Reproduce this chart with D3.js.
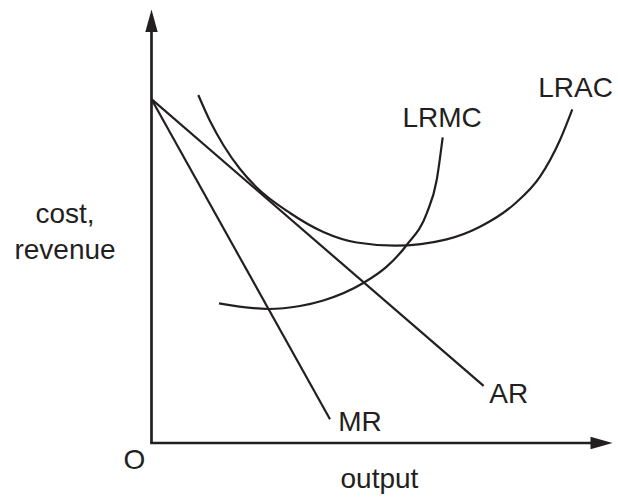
<!DOCTYPE html>
<html><head><meta charset="utf-8">
<script src="https://cdn.jsdelivr.net/npm/d3@7"></script>
<style>html,body{margin:0;padding:0;background:#fff;}svg{display:block;}</style>
</head><body>
<script>
// Data (x: output, y: cost/revenue, arbitrary units 0-100)
const arLine = [[0, 79.4], [72.2, 13.2]];
const mrLine = [[0, 79.4], [38.8, 5.5]];
const lracCurve = [[10.17,80.37],[12.72,74.36],[15.61,68.82],[19.24,63.28],[22.87,59.01],[30.11,53.12],[37.35,48.73],[44.61,46.3],[52.93,45.57],[64.17,47.04],[71.41,49.95],[78.65,54.97],[84.46,61.5],[88.8,69.98],[91.48,77.07]];
const lrmcCurve = [[14.67,32.26],[25.39,30.95],[32.28,31.64],[37.35,32.91],[46.04,36.95],[51.13,40.72],[55.48,45.73],[59.83,53.05],[62.0,60.74],[63.3,70.6]];
const curveLabels = ["LRMC", "LRAC", "MR", "AR"];
const axisLabels = ["O", "output", "cost,", "revenue"];

const W = 618, H = 501, ink = "#231f20";
const x = d3.scaleLinear().domain([0, 100]).range([151.5, 611.5]);
const y = d3.scaleLinear().domain([0, 100]).range([443, 10]);

const svg = d3.select("body").append("svg").attr("width", W).attr("height", H);
const font = "'Liberation Sans', Arial, sans-serif";

// axes
svg.append("path").attr("d", `M${x(0)},${y(0)}V${y(100)+20}`).attr("stroke", ink).attr("stroke-width", 2.7).attr("fill","none");
svg.append("path").attr("d", `M${x(0)-1.3},${y(0)}H${x(100)-20}`).attr("stroke", ink).attr("stroke-width", 2.7).attr("fill","none");
// arrowheads
svg.append("path").attr("d", `M${x(0)},${y(100)-0.5}L${x(0)+6.2},${y(100)+22}L${x(0)-6.2},${y(100)+22}Z`).attr("fill", ink);
svg.append("path").attr("d", `M${x(100)+1},${y(0)}L${x(100)-21},${y(0)-6.3}L${x(100)-21},${y(0)+6.3}Z`).attr("fill", ink);

const straight = d3.line().x(d => x(d[0])).y(d => y(d[1]));
const smooth = d3.line().x(d => x(d[0])).y(d => y(d[1])).curve(d3.curveMonotoneX);

[[arLine, straight], [mrLine, straight], [lracCurve, smooth], [lrmcCurve, smooth]].forEach(([d, gen]) => {
  svg.append("path").attr("d", gen(d)).attr("fill", "none").attr("stroke", ink).attr("stroke-width", 2.2);
});

function label(t, px, py, anchor) {
  svg.append("text").attr("x", px).attr("y", py).attr("text-anchor", anchor || "start")
    .attr("font-family", font).attr("font-size", 28).attr("fill", ink).text(t);
}
label(curveLabels[0], 402.5, 126.7);
label(curveLabels[1], 538.3, 97.3);
label(curveLabels[2], 338.3, 430.7);
label(curveLabels[3], 489.3, 402.7);
label(axisLabels[0], 123.5, 469.3);
label(axisLabels[1], 340.5, 488.3);
label(axisLabels[2], 65, 223.3, "middle");
label(axisLabels[3], 65, 259.3, "middle");
</script>
</body></html>
